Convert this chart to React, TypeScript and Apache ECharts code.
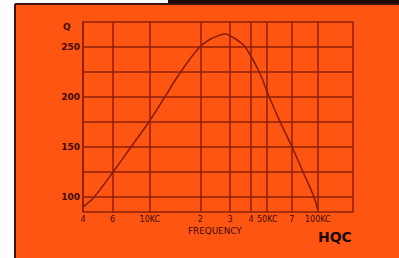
import React, { useEffect, useRef } from "react";
import * as echarts from "echarts";

// Frequency in kHz (log scale) and Q values
const freqKHz = [4, 4.66, 6.04, 7.72, 9.86, 12.27, 15.26, 19.8, 23, 25.3, 28.2, 30.2, 33.7, 37, 44.8, 51.4, 59.7, 70.3, 81.7, 94.9, 100];
const qValues = [90, 100, 125, 150, 175, 200, 225, 250, 258, 261, 263, 261, 256, 250, 225, 200, 175, 150, 125, 100, 87];

// Vertical grid lines and their labels
const xGridValues = [4, 6, 10, 20, 30, 40, 50, 70, 100];
const xGridLabels = ["4", "6", "10KC", "2", "3", "4", "50KC", "7", "100KC"];

// Horizontal grid lines and labels
const yGridValues = [100, 125, 150, 175, 200, 225, 250];
const yLabelValues = [100, 150, 200, 250];

const X_MIN = 4;
const X_MAX = 162;
const Y_MIN = 85;
const Y_MAX = 275;

const GRID_COLOR = "#8e1f08";
const TEXT_COLOR = "#3e0c05";
const FONT = "DejaVu Sans";

export default function App() {
  const ref = useRef<HTMLDivElement>(null);

  useEffect(() => {
    document.body.style.margin = "0";
    if (!ref.current) return;
    const chart = echarts.init(ref.current, undefined, { renderer: "svg" });

    const vLines = xGridValues.map((v, i) => ({
      xAxis: v,
      label: {
        show: true,
        formatter: xGridLabels[i],
        position: "start",
        distance: 3,
        color: TEXT_COLOR,
        fontSize: 8,
        fontFamily: FONT,
      },
    }));
    const hLines = yGridValues.map((v) => ({
      yAxis: v,
      label: {
        show: yLabelValues.includes(v),
        formatter: String(v),
        position: "start",
        distance: 3,
        color: TEXT_COLOR,
        fontSize: 9,
        fontWeight: "bold",
        fontFamily: FONT,
      },
    }));

    chart.setOption({
      animation: false,
      backgroundColor: "#ffffff",
      grid: {
        left: 83,
        top: 22,
        right: 46,
        bottom: 46,
        show: true,
        borderColor: GRID_COLOR,
        borderWidth: 1.5,
        backgroundColor: "transparent",
      },
      xAxis: {
        type: "log",
        logBase: 10,
        min: X_MIN,
        max: X_MAX,
        axisLine: { show: false },
        axisTick: { show: false },
        axisLabel: { show: false },
        splitLine: { show: false },
      },
      yAxis: {
        type: "value",
        min: Y_MIN,
        max: Y_MAX,
        axisLine: { show: false },
        axisTick: { show: false },
        axisLabel: { show: false },
        splitLine: { show: false },
      },
      graphic: [
        {
          type: "rect",
          z: -10,
          silent: true,
          shape: { x: 15, y: 4, width: 384, height: 254 },
          style: { fill: "#ff5512" },
        },
        {
          type: "rect",
          z: -9,
          silent: true,
          shape: { x: 168, y: 0, width: 231, height: 5 },
          style: { fill: "#1a0a06" },
        },
        {
          type: "line",
          z: -8,
          silent: true,
          shape: { x1: 15, y1: 4, x2: 399, y2: 4 },
          style: { stroke: "#3a1208", lineWidth: 2 },
        },
        {
          type: "line",
          z: -8,
          silent: true,
          shape: { x1: 15, y1: 4, x2: 15, y2: 258 },
          style: { stroke: "#3a1208", lineWidth: 2 },
        },
        {
          type: "text",
          left: 63,
          top: 22,
          style: { text: "Q", fill: TEXT_COLOR, font: `bold 9px "${FONT}"` },
        },
        {
          type: "text",
          left: 188,
          top: 226,
          style: { text: "FREQUENCY", fill: TEXT_COLOR, font: `8.8px "${FONT}"` },
        },
        {
          type: "text",
          left: 318,
          top: 230,
          style: { text: "HQC", fill: "#1a0806", font: `bold 14px "${FONT}"` },
        },
      ],
      series: [
        {
          type: "line",
          data: freqKHz.map((f, i) => [f, qValues[i]]),
          smooth: 0.4,
          showSymbol: false,
          lineStyle: { color: "#8a1e0a", width: 1.6 },
          z: 5,
          markLine: {
            silent: true,
            symbol: "none",
            lineStyle: { color: GRID_COLOR, width: 1.5, type: "solid" },
            data: [...vLines, ...hLines],
          },
        },
      ],
    });

    return () => chart.dispose();
  }, []);

  return <div ref={ref} style={{ width: 399, height: 258 }} />;
}
